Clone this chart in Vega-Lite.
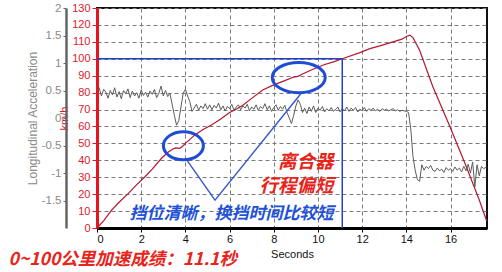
{
  "$schema": "https://vega.github.io/schema/vega-lite/v6.json",
  "width": 390,
  "height": 220,
  "autosize": "none",
  "padding": {"left": 97, "top": 8, "right": 15, "bottom": 44},
  "background": "white",
  "config": {
    "view": {"stroke": "#111111", "strokeWidth": 2},
    "font": "Liberation Sans"
  },
  "datasets": {
    "speed": [
      {"t": 0, "v": 0}, {"t": 0.3, "v": 4.2}, {"t": 0.66, "v": 10.6}, {"t": 1.0, "v": 15.2},
      {"t": 1.42, "v": 20.5}, {"t": 1.8, "v": 25.6}, {"t": 2.17, "v": 30.3}, {"t": 2.5, "v": 34.8},
      {"t": 2.92, "v": 41.2}, {"t": 3.2, "v": 44.6}, {"t": 3.4, "v": 46.4}, {"t": 3.55, "v": 47.3},
      {"t": 3.75, "v": 47.1}, {"t": 3.9, "v": 48.6}, {"t": 4.0, "v": 50.0}, {"t": 4.43, "v": 55.0},
      {"t": 4.8, "v": 58.2}, {"t": 5.18, "v": 60.9}, {"t": 5.6, "v": 64.4}, {"t": 6.0, "v": 68.3},
      {"t": 6.24, "v": 69.7}, {"t": 6.6, "v": 72.6}, {"t": 7.0, "v": 76.6}, {"t": 7.5, "v": 81.6},
      {"t": 8.0, "v": 84.6}, {"t": 8.5, "v": 87.1}, {"t": 8.9, "v": 89.2}, {"t": 9.1, "v": 89.6},
      {"t": 9.3, "v": 91.0}, {"t": 9.7, "v": 93.4}, {"t": 10.24, "v": 96.3}, {"t": 10.7, "v": 98.2},
      {"t": 11.1, "v": 100.0}, {"t": 11.9, "v": 103.6}, {"t": 12.35, "v": 106.0}, {"t": 12.8, "v": 107.6},
      {"t": 13.4, "v": 110.0}, {"t": 13.8, "v": 111.6}, {"t": 14.0, "v": 113.2}, {"t": 14.16, "v": 114.0},
      {"t": 14.3, "v": 112.5}, {"t": 14.6, "v": 105.0}, {"t": 15.2, "v": 83.5}, {"t": 15.97, "v": 60.0},
      {"t": 16.72, "v": 36.0}, {"t": 17.3, "v": 16.5}, {"t": 17.64, "v": 4.0}
    ],
    "accel": [
      {"t": 0.0, "a": 0.50}, {"t": 0.1, "a": 0.55}, {"t": 0.2, "a": 0.40}, {"t": 0.3, "a": 0.52},
      {"t": 0.4, "a": 0.47}, {"t": 0.5, "a": 0.36}, {"t": 0.6, "a": 0.50}, {"t": 0.7, "a": 0.42},
      {"t": 0.8, "a": 0.55}, {"t": 0.9, "a": 0.38}, {"t": 1.0, "a": 0.48}, {"t": 1.1, "a": 0.35},
      {"t": 1.2, "a": 0.50}, {"t": 1.3, "a": 0.44}, {"t": 1.4, "a": 0.53}, {"t": 1.5, "a": 0.37},
      {"t": 1.6, "a": 0.49}, {"t": 1.7, "a": 0.40}, {"t": 1.8, "a": 0.46}, {"t": 1.9, "a": 0.36},
      {"t": 2.0, "a": 0.51}, {"t": 2.1, "a": 0.41}, {"t": 2.2, "a": 0.47}, {"t": 2.3, "a": 0.38},
      {"t": 2.4, "a": 0.49}, {"t": 2.5, "a": 0.43}, {"t": 2.6, "a": 0.52}, {"t": 2.7, "a": 0.37},
      {"t": 2.8, "a": 0.45}, {"t": 2.9, "a": 0.58}, {"t": 3.0, "a": 0.40}, {"t": 3.1, "a": 0.50},
      {"t": 3.2, "a": 0.39}, {"t": 3.3, "a": 0.45}, {"t": 3.4, "a": 0.25}, {"t": 3.5, "a": 0.05},
      {"t": 3.6, "a": -0.13}, {"t": 3.7, "a": -0.05}, {"t": 3.8, "a": 0.20}, {"t": 3.9, "a": 0.45},
      {"t": 4.0, "a": 0.52}, {"t": 4.1, "a": 0.40}, {"t": 4.2, "a": 0.30}, {"t": 4.3, "a": 0.12},
      {"t": 4.4, "a": 0.18}, {"t": 4.5, "a": 0.25}, {"t": 4.6, "a": 0.14}, {"t": 4.7, "a": 0.22},
      {"t": 4.8, "a": 0.17}, {"t": 4.9, "a": 0.26}, {"t": 5.0, "a": 0.16}, {"t": 5.1, "a": 0.24},
      {"t": 5.2, "a": 0.15}, {"t": 5.3, "a": 0.23}, {"t": 5.4, "a": 0.18}, {"t": 5.5, "a": 0.27},
      {"t": 5.6, "a": 0.15}, {"t": 5.7, "a": 0.22}, {"t": 5.8, "a": 0.13}, {"t": 5.9, "a": 0.21},
      {"t": 6.0, "a": 0.17}, {"t": 6.1, "a": 0.25}, {"t": 6.2, "a": 0.14}, {"t": 6.3, "a": 0.20},
      {"t": 6.4, "a": 0.24}, {"t": 6.5, "a": 0.15}, {"t": 6.6, "a": 0.22}, {"t": 6.7, "a": 0.18},
      {"t": 6.8, "a": 0.25}, {"t": 6.9, "a": 0.13}, {"t": 7.0, "a": 0.20}, {"t": 7.1, "a": 0.16},
      {"t": 7.2, "a": 0.24}, {"t": 7.3, "a": 0.14}, {"t": 7.4, "a": 0.21}, {"t": 7.5, "a": 0.17},
      {"t": 7.6, "a": 0.26}, {"t": 7.7, "a": 0.15}, {"t": 7.8, "a": 0.22}, {"t": 7.9, "a": 0.12},
      {"t": 8.0, "a": 0.19}, {"t": 8.1, "a": 0.24}, {"t": 8.2, "a": 0.14}, {"t": 8.3, "a": 0.21},
      {"t": 8.4, "a": 0.16}, {"t": 8.5, "a": 0.23}, {"t": 8.6, "a": 0.10}, {"t": 8.7, "a": 0.00},
      {"t": 8.8, "a": -0.10}, {"t": 8.9, "a": 0.05}, {"t": 9.0, "a": 0.22}, {"t": 9.1, "a": 0.33},
      {"t": 9.2, "a": 0.25}, {"t": 9.3, "a": 0.10}, {"t": 9.4, "a": 0.18}, {"t": 9.5, "a": 0.08},
      {"t": 9.6, "a": 0.20}, {"t": 9.7, "a": 0.12}, {"t": 9.8, "a": 0.22}, {"t": 9.9, "a": 0.10},
      {"t": 10.0, "a": 0.18}, {"t": 10.1, "a": 0.14}, {"t": 10.2, "a": 0.21}, {"t": 10.3, "a": 0.11},
      {"t": 10.4, "a": 0.17}, {"t": 10.5, "a": 0.13}, {"t": 10.6, "a": 0.19}, {"t": 10.7, "a": 0.12},
      {"t": 10.8, "a": 0.16}, {"t": 10.9, "a": 0.20}, {"t": 11.0, "a": 0.11}, {"t": 11.1, "a": 0.17},
      {"t": 11.2, "a": 0.13}, {"t": 11.3, "a": 0.20}, {"t": 11.4, "a": 0.12}, {"t": 11.5, "a": 0.18},
      {"t": 11.6, "a": 0.14}, {"t": 11.7, "a": 0.19}, {"t": 11.8, "a": 0.11}, {"t": 11.9, "a": 0.16},
      {"t": 12.0, "a": 0.13}, {"t": 12.1, "a": 0.19}, {"t": 12.2, "a": 0.12}, {"t": 12.3, "a": 0.17},
      {"t": 12.4, "a": 0.14}, {"t": 12.5, "a": 0.18}, {"t": 12.6, "a": 0.13}, {"t": 12.7, "a": 0.16},
      {"t": 12.8, "a": 0.12}, {"t": 12.9, "a": 0.17}, {"t": 13.0, "a": 0.14}, {"t": 13.1, "a": 0.16},
      {"t": 13.2, "a": 0.13}, {"t": 13.3, "a": 0.15}, {"t": 13.4, "a": 0.17}, {"t": 13.5, "a": 0.13},
      {"t": 13.6, "a": 0.15}, {"t": 13.7, "a": 0.12}, {"t": 13.8, "a": 0.14}, {"t": 13.9, "a": 0.13},
      {"t": 14.0, "a": 0.12}, {"t": 14.1, "a": 0.10}, {"t": 14.2, "a": -0.20}, {"t": 14.3, "a": -0.70},
      {"t": 14.4, "a": -0.95}, {"t": 14.5, "a": -1.12}, {"t": 14.6, "a": -1.15}, {"t": 14.7, "a": -0.85},
      {"t": 14.8, "a": -0.95}, {"t": 14.9, "a": -0.88}, {"t": 15.0, "a": -0.92}, {"t": 15.1, "a": -0.86},
      {"t": 15.2, "a": -0.95}, {"t": 15.3, "a": -0.97}, {"t": 15.4, "a": -0.91}, {"t": 15.5, "a": -0.96},
      {"t": 15.6, "a": -0.93}, {"t": 15.7, "a": -0.99}, {"t": 15.8, "a": -0.90}, {"t": 15.9, "a": -0.95},
      {"t": 16.0, "a": -0.92}, {"t": 16.1, "a": -0.97}, {"t": 16.2, "a": -0.89}, {"t": 16.3, "a": -0.95},
      {"t": 16.4, "a": -0.91}, {"t": 16.5, "a": -0.98}, {"t": 16.6, "a": -0.88}, {"t": 16.7, "a": -0.96},
      {"t": 16.8, "a": -0.84}, {"t": 16.9, "a": -1.00}, {"t": 17.0, "a": -0.80}, {"t": 17.1, "a": -1.25},
      {"t": 17.2, "a": -0.85}, {"t": 17.3, "a": -1.05}, {"t": 17.4, "a": -0.88}, {"t": 17.5, "a": -0.92},
      {"t": 17.64, "a": -0.89}
    ],
    "bounds": [
      {"t": 0, "t2": 11.1, "v": 100, "v2": 100},
      {"t": 11.1, "t2": 11.1, "v": 0, "v2": 100}
    ],
    "pointer": [
      {"t": 4.06, "v": 40.2}, {"t": 5.34, "v": 16.5}, {"t": 9.27, "v": 80.1}
    ],
    "ring1": [{"t": 3.91, "v": 48.6}],
    "ring2": [{"t": 9.13, "v": 88.9}],
    "redNotes": [
      {"t": 10.7, "v": 39.0, "label": "离合器"},
      {"t": 10.7, "v": 24.8, "label": "行程偏短"}
    ],
    "blueNotes": [
      {"t": 10.7, "v": 8.5, "label": "挡位清晰，换挡时间比较短"}
    ],
    "result": [
      {"t": -4.0, "v": -19.0, "label": "0~100公里加速成绩：11.1秒"}
    ]
  },
  "layer": [
    {
      "data": {"name": "speed"},
      "mark": {"type": "line", "color": "#b3182f", "strokeWidth": 1.2, "clip": false},
      "encoding": {
        "x": {
          "field": "t", "type": "quantitative",
          "scale": {"domain": [0, 17.65], "nice": false, "zero": false},
          "axis": {
            "title": "Seconds", "values": [0, 2, 4, 6, 8, 10, 12, 14, 16],
            "labelOverlap": false,
            "grid": true, "gridDash": [4, 3], "gridColor": "#7a7a7a", "gridWidth": 1,
            "domainColor": "#000000", "domainWidth": 3,
            "tickColor": "#000000", "tickSize": 4,
            "labelColor": "#111111", "labelFontSize": 11, "labelPadding": 1,
            "titleColor": "#111111", "titleFontSize": 11, "titleFontWeight": "normal", "titlePadding": 4
          }
        },
        "y": {
          "field": "v", "type": "quantitative",
          "scale": {"domain": [0, 130], "nice": false, "zero": false},
          "axis": {
            "title": "km/h", "values": [0, 10, 20, 30, 40, 50, 60, 70, 80, 90, 100, 110, 120, 130],
            "labelOverlap": false,
            "grid": true, "gridDash": [4, 3], "gridColor": "#7a7a7a", "gridWidth": 1,
            "domainColor": "#e8141c", "domainWidth": 3,
            "tickColor": "#e8141c", "tickSize": 5,
            "labelColor": "#e0192b", "labelFontSize": 11, "labelPadding": 2,
            "titleColor": "#d6182a", "titleFontSize": 11, "titleFontWeight": "normal", "titlePadding": 2
          }
        }
      }
    },
    {
      "data": {"name": "accel"},
      "mark": {"type": "line", "color": "#5c5c5c", "strokeWidth": 1, "clip": false},
      "encoding": {
        "x": {"field": "t", "type": "quantitative", "scale": {"domain": [0, 17.65], "nice": false, "zero": false}},
        "y": {
          "field": "a", "type": "quantitative",
          "scale": {"domain": [-2, 2], "nice": false, "zero": false},
          "axis": {
            "orient": "left", "offset": 31,
            "values": [-1.5, -1, -0.5, 0, 0.5, 1, 1.5, 2],
            "labelOverlap": false,
            "labelExpr": "'' + datum.value",
            "grid": false,
            "domainColor": "#666666", "domainWidth": 2.5,
            "tickColor": "#666666", "tickSize": 3,
            "labelColor": "#8a8a8a", "labelFontSize": 11.5, "labelPadding": 2,
            "title": "Longitudinal Acceleration",
            "titleColor": "#8a8a8a", "titleFontSize": 12, "titleFontWeight": "normal", "titlePadding": 2
          }
        }
      }
    },
    {
      "data": {"name": "bounds"},
      "mark": {"type": "rule", "color": "#2340c4", "strokeWidth": 1.5, "clip": false},
      "encoding": {
        "x": {"field": "t", "type": "quantitative", "scale": {"domain": [0, 17.65], "nice": false, "zero": false}},
        "x2": {"field": "t2"},
        "y": {"field": "v", "type": "quantitative", "scale": {"domain": [0, 130], "nice": false, "zero": false}, "axis": null},
        "y2": {"field": "v2"}
      }
    },
    {
      "data": {"name": "pointer"},
      "mark": {"type": "line", "color": "#3457cc", "strokeWidth": 1.4, "clip": false},
      "encoding": {
        "x": {"field": "t", "type": "quantitative", "scale": {"domain": [0, 17.65], "nice": false, "zero": false}},
        "y": {"field": "v", "type": "quantitative", "scale": {"domain": [0, 130], "nice": false, "zero": false}, "axis": null}
      }
    },
    {
      "data": {"name": "ring1"},
      "mark": {
        "type": "point", "filled": false, "color": "#1f4bd6", "strokeWidth": 3, "opacity": 1,
        "size": 1600, "shape": "M-1,0A1,0.7,0,1,1,1,0A1,0.7,0,1,1,-1,0Z", "clip": false
      },
      "encoding": {
        "x": {"field": "t", "type": "quantitative", "scale": {"domain": [0, 17.65], "nice": false, "zero": false}},
        "y": {"field": "v", "type": "quantitative", "scale": {"domain": [0, 130], "nice": false, "zero": false}, "axis": null}
      }
    },
    {
      "data": {"name": "ring2"},
      "mark": {
        "type": "point", "filled": false, "color": "#1f4bd6", "strokeWidth": 3, "opacity": 1,
        "size": 2809, "shape": "M-1,0A1,0.57,0,1,1,1,0A1,0.57,0,1,1,-1,0Z", "clip": false
      },
      "encoding": {
        "x": {"field": "t", "type": "quantitative", "scale": {"domain": [0, 17.65], "nice": false, "zero": false}},
        "y": {"field": "v", "type": "quantitative", "scale": {"domain": [0, 130], "nice": false, "zero": false}, "axis": null}
      }
    },
    {
      "data": {"name": "redNotes"},
      "mark": {
        "type": "text", "font": "Noto Sans CJK SC", "fontSize": 18.5, "fontWeight": "bold", "fontStyle": "italic",
        "color": "#e8231a", "align": "right", "baseline": "middle", "clip": false
      },
      "encoding": {
        "x": {"field": "t", "type": "quantitative", "scale": {"domain": [0, 17.65], "nice": false, "zero": false}},
        "y": {"field": "v", "type": "quantitative", "scale": {"domain": [0, 130], "nice": false, "zero": false}, "axis": null},
        "text": {"field": "label"}
      }
    },
    {
      "data": {"name": "blueNotes"},
      "mark": {
        "type": "text", "font": "Noto Sans CJK SC", "fontSize": 17, "fontWeight": "bold", "fontStyle": "italic",
        "color": "#1f52d8", "align": "right", "baseline": "middle", "clip": false
      },
      "encoding": {
        "x": {"field": "t", "type": "quantitative", "scale": {"domain": [0, 17.65], "nice": false, "zero": false}},
        "y": {"field": "v", "type": "quantitative", "scale": {"domain": [0, 130], "nice": false, "zero": false}, "axis": null},
        "text": {"field": "label"}
      }
    },
    {
      "data": {"name": "result"},
      "mark": {
        "type": "text", "font": "Noto Sans CJK SC", "fontSize": 17.5, "fontWeight": "bold", "fontStyle": "italic",
        "color": "#e8231a", "align": "left", "baseline": "middle", "clip": false
      },
      "encoding": {
        "x": {"field": "t", "type": "quantitative", "scale": {"domain": [0, 17.65], "nice": false, "zero": false}},
        "y": {"field": "v", "type": "quantitative", "scale": {"domain": [0, 130], "nice": false, "zero": false}, "axis": null},
        "text": {"field": "label"}
      }
    }
  ],
  "resolve": {"scale": {"y": "independent"}}
}
